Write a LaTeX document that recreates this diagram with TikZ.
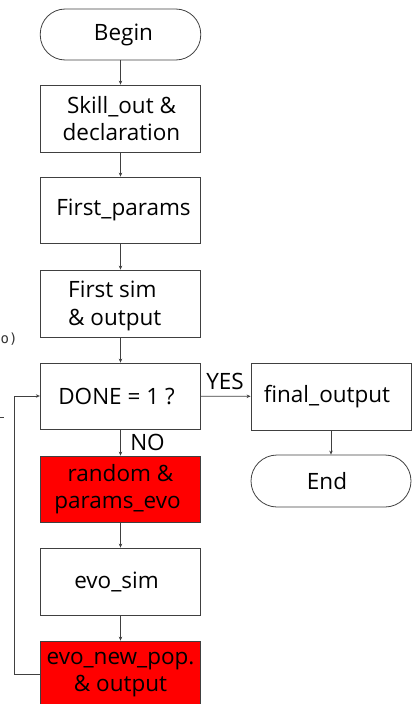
\documentclass[tikz,border=0pt]{standalone}
\usepackage{fontspec}
\setmainfont{Open Sans}
\newfontfamily\fragfont{DejaVu Sans Mono}
\usetikzlibrary{arrows.meta}
\begin{document}
\begin{tikzpicture}[x=1pt,y=-1pt,
  every node/.style={font=\fontsize{22.5}{27.5}\selectfont, text=black},
  box/.style={draw=black!75, line width=0.8pt, minimum width=160.5pt, minimum height=67pt, inner sep=0pt, align=center},
  redbox/.style={box, fill=red},
  term/.style={box, rounded corners=25pt, minimum height=51pt},
  conn/.style={draw=black!75, line width=0.8pt, -{Stealth[length=4pt,width=3.5pt]}},
  plain/.style={draw=black!75, line width=0.8pt}
]
\clip (0,0) rectangle (414,704);
\useasboundingbox (0,0) rectangle (414,704);

\node[term] (begin) at (120.5,34.5) {\hspace*{6pt}Begin};
\node[box] (skill) at (120.5,118.5) {\hspace*{2pt}Skill\_out \&\\\hspace*{2pt}declaration};
\node[box, minimum height=66pt] (fparams) at (120.5,210) {\hspace*{6pt}First\_params};
\node[box] (fsim) at (120.5,303.5) {};
\node[inner sep=0pt, anchor=west, align=left] (fsimtxt) at (68,306) {First sim\\\& output};
\node[box, minimum height=66pt] (done) at (120.5,396) {DONE = 1 ?\hspace*{8pt}};
\node[redbox, minimum height=66pt] (random) at (120.5,489) {random \&\\params\_evo\hspace*{6pt}};
\node[box] (evosim) at (120.5,581.5) {evo\_sim\hspace*{8pt}};
\node[redbox] (evonew) at (120.5,674.5) {evo\_new\_pop.\\\& output};
\node[box, minimum width=160pt] (final) at (331,396.5) {final\_output\hspace*{8pt}};
\node[term, minimum width=160pt, minimum height=52pt, rounded corners=26pt] (end) at (331,481) {End\hspace*{8pt}};

\node (yes) at (225,381) {YES};
\node (no) at (147.5,442) {NO};

\draw[conn] (begin) -- (skill);
\draw[conn] (skill) -- (fparams);
\draw[conn] (fparams) -- (fsim);
\draw[conn] (fsim) -- (done);
\draw[conn] (done) -- (random);
\draw[conn] (random) -- (evosim);
\draw[conn] (evosim) -- (evonew);
\draw[conn] (done) -- (final);
\draw[conn] (final) -- (end);
\draw[conn] (evonew.west) -- ++(-25,0) |- (done.west);

% fragments at the left edge
\node[font=\fragfont\fontsize{14}{16}\selectfont, anchor=west, inner sep=0pt, text=black!80] (frag) at (0.5,339) {o)};
\coordinate (d1) at (0,417);
\coordinate (d2) at (4,417);
\draw[plain] (d1) -- (d2);
\end{tikzpicture}
\end{document}
